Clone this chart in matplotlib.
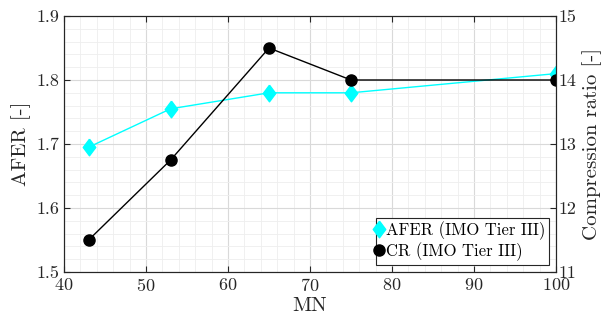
import matplotlib
matplotlib.use("Agg")
import matplotlib.pyplot as plt
from matplotlib.ticker import MultipleLocator

plt.rcParams['font.family'] = 'serif'
plt.rcParams['font.serif'] = ['cmr10', 'DejaVu Serif']
plt.rcParams['mathtext.fontset'] = 'cm'
plt.rcParams['axes.formatter.use_mathtext'] = True

mn = [43, 53, 65, 75, 100]
afer = [1.695, 1.755, 1.78, 1.78, 1.81]
cr = [11.5, 12.75, 14.5, 14.0, 14.0]

edge = '#262626'
fig = plt.figure(figsize=(6.04, 3.27), dpi=100)
ax = fig.add_axes([64/604, 1-272/327, (556-64)/604, (272-16)/327])
ax2 = ax.twinx()

ax.set_xlim(40, 100)
ax.set_ylim(1.5, 1.9)
ax2.set_ylim(11, 15)
ax.xaxis.set_major_locator(MultipleLocator(10))
ax.xaxis.set_minor_locator(MultipleLocator(2))
ax.yaxis.set_major_locator(MultipleLocator(0.1))
ax.yaxis.set_minor_locator(MultipleLocator(0.02))
ax2.yaxis.set_major_locator(MultipleLocator(1))
ax2.yaxis.set_minor_locator(MultipleLocator(0.2))
ax.yaxis.set_major_formatter(plt.FuncFormatter(lambda v, p: f"{v:.1f}"))
ax2.yaxis.set_major_formatter(plt.FuncFormatter(lambda v, p: f"{v:.0f}"))

ax.grid(which='major', color='#d9d9d9', linewidth=0.8)
ax.grid(which='minor', color='#eeeeee', linewidth=0.6)
ax.set_axisbelow(True)

for a in (ax, ax2):
    a.tick_params(which='both', direction='in', colors=edge, labelsize=13)
    a.tick_params(which='major', length=4)
    a.tick_params(which='minor', length=0)
    for s in a.spines.values():
        s.set_color(edge)
        s.set_linewidth(0.8)
ax.tick_params(top=True, which='major')
ax2.tick_params(axis='y', pad=2)

diamond = [(0, 1), (0.75, 0), (0, -1), (-0.75, 0), (0, 1)]
l1, = ax.plot(mn, afer, color='cyan', marker=diamond, markersize=12, linewidth=1,
              label='AFER (IMO Tier III)')
l2, = ax2.plot(mn, cr, color='black', marker='o', markersize=8, linewidth=1,
               label='CR (IMO Tier III)')

ax.set_xlabel('MN', fontsize=15, color=edge, labelpad=2)
ax.set_ylabel('AFER [-]', fontsize=15, color=edge, labelpad=4)
ax2.set_ylabel('Compression ratio [-]', fontsize=15, color=edge, labelpad=4)

leg = ax2.legend(handles=[l1, l2], loc='lower right', fontsize=12,
                 handlelength=0.0, handletextpad=0.4, borderpad=0.2,
                 labelspacing=0.15, borderaxespad=0.45, fancybox=False,
                 framealpha=1, edgecolor=edge, markerfirst=True)
leg.get_frame().set_linewidth(0.8)

fig.savefig('out.png', dpi=100)
